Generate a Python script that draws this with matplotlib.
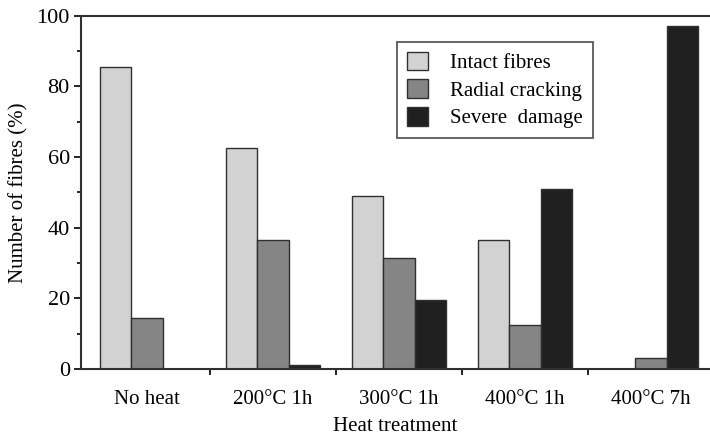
import numpy as np
import matplotlib
matplotlib.use("Agg")
import matplotlib.pyplot as plt
from matplotlib.ticker import MultipleLocator, FixedLocator

# Datos
treatments = ["No heat", "200°C 1h", "300°C 1h", "400°C 1h", "400°C 7h"]
intact = [85.5, 62.5, 49.0, 36.5, 0.0]
radial = [14.5, 36.5, 31.5, 12.5, 3.0]
severe = [0.0, 1.0, 19.5, 51.0, 97.0]
series_names = ["Intact fibres", "Radial cracking", "Severe  damage"]

plt.rcParams['font.family'] = ['Liberation Serif', 'DejaVu Serif']

fig = plt.figure(figsize=(7.1, 4.37), dpi=100)
ax = fig.add_axes([0.114, 0.156, 0.886, 0.808])

x = np.arange(len(treatments))
w = 0.25
colors = ["#d2d2d2", "#858585", "#202020"]
for i, (vals, c, name) in enumerate(zip([intact, radial, severe], colors, series_names)):
    ax.bar(x + (i - 1) * w, vals, width=w, color=c, edgecolor="#303030",
           linewidth=1.0, label=name)

ax.set_xlim(-0.524, 4.47)
ax.set_ylim(0, 100)

ax.set_xticks(x)
ax.set_xticklabels(treatments, fontsize=15)
ax.tick_params(axis='x', which='major', length=0, pad=15)
ax.xaxis.set_minor_locator(FixedLocator(x[:-1] + 0.5))
ax.tick_params(axis='x', which='minor', length=4, width=1.2, direction='out')

ax.yaxis.set_major_locator(MultipleLocator(20))
ax.yaxis.set_minor_locator(MultipleLocator(10))
ax.tick_params(axis='y', which='major', length=5, width=1.2, labelsize=16, pad=3)
ax.tick_params(axis='y', which='minor', length=3, width=1.2)

for s in ['left', 'top', 'bottom']:
    ax.spines[s].set_linewidth(1.5)
    ax.spines[s].set_color("#303030")
ax.spines['right'].set_visible(False)

ax.set_ylabel("Number of fibres (%)", fontsize=15, labelpad=6)
ax.set_xlabel("Heat treatment", fontsize=15, labelpad=6)

leg = ax.legend(loc='upper left', bbox_to_anchor=(0.503, 0.925), fontsize=15,
                frameon=True, fancybox=False, edgecolor="#303030",
                handlelength=1.0, handleheight=1.0, handletextpad=1.1,
                borderpad=0.45, labelspacing=0.3, borderaxespad=0)
leg.get_frame().set_linewidth(1.3)

fig.savefig("out.png", dpi=100)
